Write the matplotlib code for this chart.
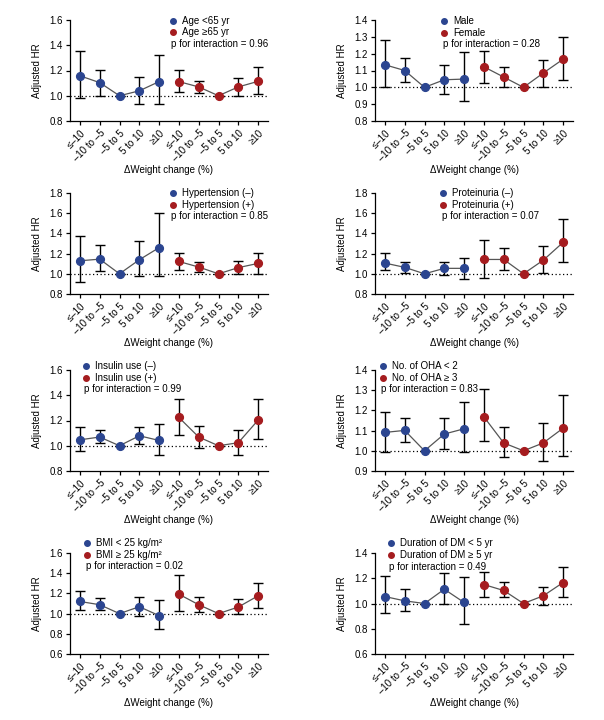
import matplotlib
matplotlib.use("Agg")
import matplotlib.pyplot as plt

plt.rcParams['font.family'] = ['Liberation Sans', 'DejaVu Sans']
plt.rcParams['font.size'] = 7

BLUE = '#2b4590'
RED = '#a51c1f'

categories = ["≤–10", "–10 to –5", "–5 to 5", "5 to 10", "≥10"]

# each panel: (label_a, label_b, p value, ylim, yticks,
#              hr_a, low_a, up_a, hr_b, low_b, up_b)
age_labels = ("Age <65 yr", "Age ≥65 yr")
age_p = "0.96"
age_hr_a = [1.158, 1.104, 1.0, 1.039, 1.112]
age_lo_a = [0.979, 1.000, 1.0, 0.932, 0.932]
age_up_a = [1.356, 1.203, 1.0, 1.148, 1.322]
age_hr_b = [1.112, 1.070, 1.0, 1.070, 1.114]
age_lo_b = [1.026, 1.018, 1.0, 1.000, 1.010]
age_up_b = [1.203, 1.119, 1.0, 1.143, 1.231]

sex_labels = ("Male", "Female")
sex_p = "0.28"
sex_hr_a = [1.134, 1.100, 1.0, 1.045, 1.049]
sex_lo_a = [1.000, 1.030, 1.0, 0.959, 0.921]
sex_up_a = [1.281, 1.175, 1.0, 1.134, 1.211]
sex_hr_b = [1.122, 1.061, 1.0, 1.085, 1.167]
sex_lo_b = [1.026, 1.000, 1.0, 1.000, 1.041]
sex_up_b = [1.217, 1.122, 1.0, 1.165, 1.301]

htn_labels = ("Hypertension (–)", "Hypertension (+)")
htn_p = "0.85"
htn_hr_a = [1.129, 1.145, 1.0, 1.139, 1.259]
htn_lo_a = [0.914, 1.025, 1.0, 0.979, 0.982]
htn_up_a = [1.373, 1.282, 1.0, 1.321, 1.604]
htn_hr_b = [1.122, 1.067, 1.0, 1.061, 1.103]
htn_lo_b = [1.041, 1.018, 1.0, 1.000, 1.000]
htn_up_b = [1.207, 1.119, 1.0, 1.129, 1.207]

prot_labels = ("Proteinuria (–)", "Proteinuria (+)")
prot_p = "0.07"
prot_hr_a = [1.106, 1.064, 1.0, 1.054, 1.054]
prot_lo_a = [1.041, 1.012, 1.0, 0.992, 0.953]
prot_up_a = [1.207, 1.119, 1.0, 1.119, 1.155]
prot_hr_b = [1.142, 1.142, 1.0, 1.135, 1.311]
prot_lo_b = [0.960, 1.041, 1.0, 1.012, 1.119]
prot_up_b = [1.331, 1.256, 1.0, 1.272, 1.546]

ins_labels = ("Insulin use (–)", "Insulin use (+)")
ins_p = "0.99"
ins_hr_a = [1.047, 1.069, 1.0, 1.079, 1.042]
ins_lo_a = [0.958, 1.018, 1.0, 1.013, 0.926]
ins_up_a = [1.148, 1.127, 1.0, 1.150, 1.169]
ins_hr_b = [1.224, 1.069, 1.0, 1.024, 1.203]
ins_lo_b = [1.082, 0.979, 1.0, 0.923, 1.050]
ins_up_b = [1.372, 1.153, 1.0, 1.127, 1.372]

oha_labels = ("No. of OHA < 2", "No. of OHA ≥ 3")
oha_p = "0.83"
oha_hr_a = [1.091, 1.101, 1.0, 1.083, 1.109]
oha_lo_a = [0.992, 1.042, 1.0, 1.011, 0.996]
oha_up_a = [1.192, 1.160, 1.0, 1.160, 1.240]
oha_hr_b = [1.168, 1.039, 1.0, 1.039, 1.112]
oha_lo_b = [1.047, 0.969, 1.0, 0.948, 0.972]
oha_up_b = [1.304, 1.117, 1.0, 1.138, 1.276]

bmi_labels = ("BMI < 25 kg/m²", "BMI ≥ 25 kg/m²")
bmi_p = "0.02"
bmi_hr_a = [1.120, 1.088, 1.0, 1.068, 0.980]
bmi_lo_a = [1.039, 1.039, 1.0, 0.977, 0.844]
bmi_up_a = [1.228, 1.153, 1.0, 1.160, 1.130]
bmi_hr_b = [1.192, 1.088, 1.0, 1.065, 1.176]
bmi_lo_b = [1.029, 1.016, 1.0, 0.993, 1.055]
bmi_up_b = [1.378, 1.169, 1.0, 1.140, 1.306]

dm_labels = ("Duration of DM < 5 yr", "Duration of DM ≥ 5 yr")
dm_p = "0.49"
dm_hr_a = [1.055, 1.021, 1.0, 1.113, 1.008]
dm_lo_a = [0.926, 0.942, 1.0, 1.000, 0.839]
dm_up_a = [1.214, 1.111, 1.0, 1.240, 1.206]
dm_hr_b = [1.150, 1.103, 1.0, 1.061, 1.166]
dm_lo_b = [1.053, 1.053, 1.0, 0.989, 1.053]
dm_up_b = [1.248, 1.169, 1.0, 1.127, 1.288]

panels = [
    (age_labels, age_p, (0.8, 1.6), [0.8, 1.0, 1.2, 1.4, 1.6],
     age_hr_a, age_lo_a, age_up_a, age_hr_b, age_lo_b, age_up_b),
    (sex_labels, sex_p, (0.8, 1.4), [0.8, 0.9, 1.0, 1.1, 1.2, 1.3, 1.4],
     sex_hr_a, sex_lo_a, sex_up_a, sex_hr_b, sex_lo_b, sex_up_b),
    (htn_labels, htn_p, (0.8, 1.8), [0.8, 1.0, 1.2, 1.4, 1.6, 1.8],
     htn_hr_a, htn_lo_a, htn_up_a, htn_hr_b, htn_lo_b, htn_up_b),
    (prot_labels, prot_p, (0.8, 1.8), [0.8, 1.0, 1.2, 1.4, 1.6, 1.8],
     prot_hr_a, prot_lo_a, prot_up_a, prot_hr_b, prot_lo_b, prot_up_b),
    (ins_labels, ins_p, (0.8, 1.6), [0.8, 1.0, 1.2, 1.4, 1.6],
     ins_hr_a, ins_lo_a, ins_up_a, ins_hr_b, ins_lo_b, ins_up_b),
    (oha_labels, oha_p, (0.9, 1.4), [0.9, 1.0, 1.1, 1.2, 1.3, 1.4],
     oha_hr_a, oha_lo_a, oha_up_a, oha_hr_b, oha_lo_b, oha_up_b),
    (bmi_labels, bmi_p, (0.6, 1.6), [0.6, 0.8, 1.0, 1.2, 1.4, 1.6],
     bmi_hr_a, bmi_lo_a, bmi_up_a, bmi_hr_b, bmi_lo_b, bmi_up_b),
    (dm_labels, dm_p, (0.6, 1.4), [0.6, 0.8, 1.0, 1.2, 1.4],
     dm_hr_a, dm_lo_a, dm_up_a, dm_hr_b, dm_lo_b, dm_up_b),
]

# legend anchor (axes fraction) for each panel: x of dot, y of first row
legend_pos = [(0.52, 0.993), (0.35, 0.99), (0.52, 1.0), (0.345, 1.0),
              (0.08, 1.04), (0.04, 1.04), (0.087, 1.10), (0.08, 1.095)]

W, H = 604, 720
col_left = [70, 375]
row_top = [20, 193, 370, 553]
ax_w, ax_h = 198, 101

fig = plt.figure(figsize=(W / 100, H / 100), dpi=100)

for i, panel in enumerate(panels):
    labels, p, ylim, yticks, hr_a, lo_a, up_a, hr_b, lo_b, up_b = panel
    r, c = divmod(i, 2)
    ax = fig.add_axes([col_left[c] / W, 1 - (row_top[r] + ax_h) / H, ax_w / W, ax_h / H])

    n = len(categories)
    xa = list(range(n))
    xb = list(range(n, 2 * n))

    ax.axhline(1.0, color='black', linestyle=(0, (1, 2)), linewidth=0.9, zorder=1)

    for xs, hr, lo, up, col in [(xa, hr_a, lo_a, up_a, BLUE), (xb, hr_b, lo_b, up_b, RED)]:
        err = [[h - l for h, l in zip(hr, lo)], [u - h for h, u in zip(hr, up)]]
        ax.errorbar(xs, hr, yerr=err, fmt='none', ecolor='black', elinewidth=1.0,
                    capsize=3.5, capthick=1.0, zorder=2)
        ax.plot(xs, hr, color='#555555', linewidth=0.9, zorder=3)
        ax.plot(xs, hr, 'o', color=col, markersize=5.6, zorder=4)

    ax.set_xlim(-0.5, 2 * n - 0.5)
    ax.set_ylim(*ylim)
    ax.set_yticks(yticks)
    ax.set_yticklabels([f"{t:.1f}" for t in yticks])
    ax.set_xticks(xa + xb)
    ax.set_xticklabels(categories * 2, rotation=45, ha='right', rotation_mode='anchor')
    ax.tick_params(axis='both', direction='out', length=3, width=0.9, labelsize=7, pad=2)
    for s in ['top', 'right']:
        ax.spines[s].set_visible(False)
    for s in ['left', 'bottom']:
        ax.spines[s].set_linewidth(0.9)

    ax.text(-0.165, 0.5, "Adjusted HR", transform=ax.transAxes, rotation=90,
            ha='center', va='center', fontsize=7)
    ax.text(0.5, -0.49, "ΔWeight change (%)", transform=ax.transAxes,
            ha='center', va='center', fontsize=7)

    lx, ly = legend_pos[i]
    step = 11.6 / ax_h
    ax.plot([lx], [ly], 'o', color=BLUE, markersize=4, transform=ax.transAxes, clip_on=False)
    ax.plot([lx], [ly - step], 'o', color=RED, markersize=4, transform=ax.transAxes, clip_on=False)
    ax.text(lx + 0.045, ly, labels[0], transform=ax.transAxes, va='center', ha='left', fontsize=7)
    ax.text(lx + 0.045, ly - step, labels[1], transform=ax.transAxes, va='center', ha='left', fontsize=7)
    ax.text(lx - 0.008, ly - 2 * step, f"p for interaction = {p}", transform=ax.transAxes,
            va='center', ha='left', fontsize=7)

fig.savefig("out.png", dpi=100)
